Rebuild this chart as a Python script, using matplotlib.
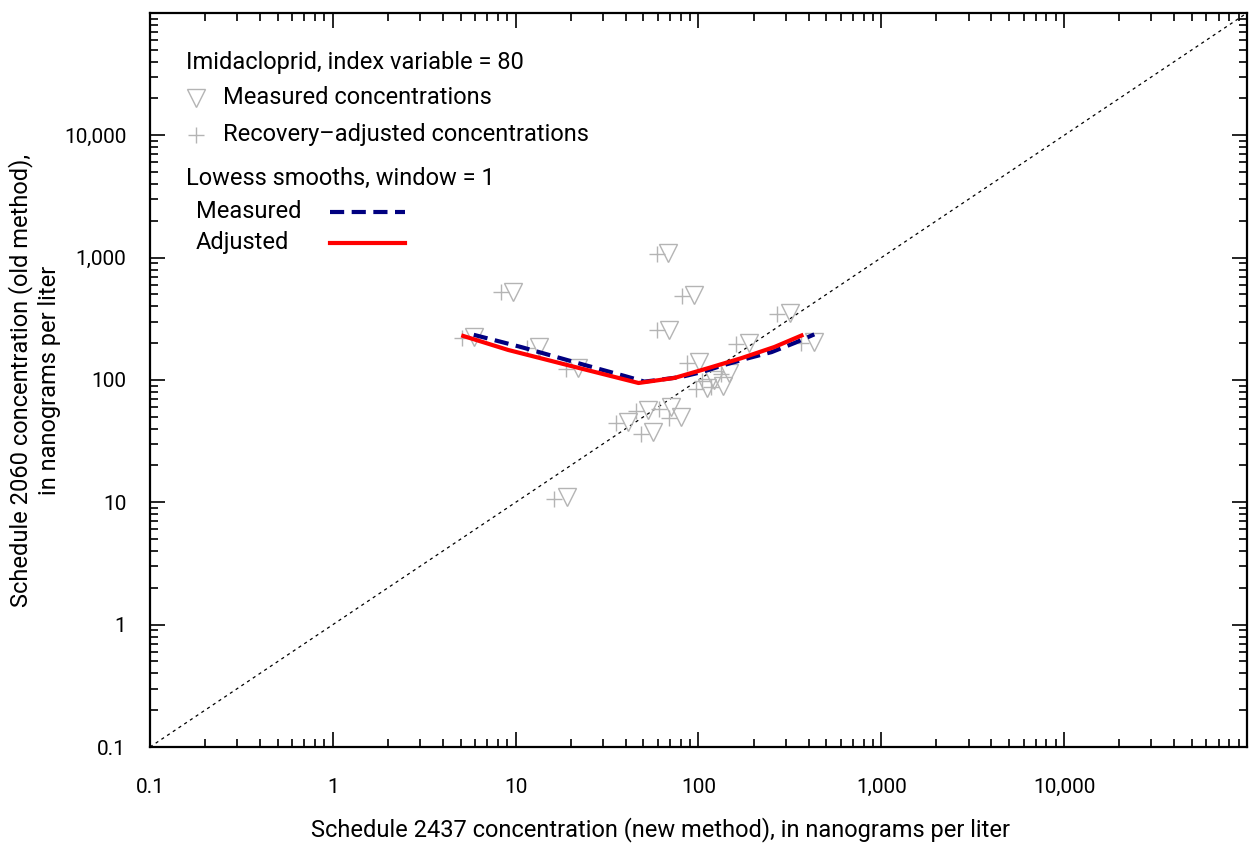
import matplotlib
matplotlib.use("Agg")
import matplotlib.pyplot as plt
from matplotlib import font_manager
from matplotlib.lines import Line2D
from matplotlib.ticker import FixedLocator, LogLocator, NullFormatter

# Font: a narrow sans if available
names = {f.name for f in font_manager.fontManager.ttflist}
family = ["Liberation Sans Narrow"] if "Liberation Sans Narrow" in names else ["Roboto", "DejaVu Sans"]
plt.rcParams["font.family"] = family + ["DejaVu Sans"]

# Measured concentrations (new method x, old method y), ng/L
meas_x = [5.9, 9.7, 13.5, 22, 19.2, 68.5, 95, 69.4, 315, 426, 188, 101, 146,
          121, 137, 112, 41.4, 53.2, 71, 80.7, 56.7]
meas_y = [225, 525, 186, 125, 11.0, 1095, 496, 257, 353, 205, 201, 140, 114,
          100, 89.3, 86, 45.3, 56.8, 60.1, 49.8, 37.5]

# Recovery-adjusted concentrations
adj_x = [5.1, 8.3, 11.5, 18.8, 16.3, 59, 81.5, 59, 268, 363, 160, 86, 132,
         104, 117, 97, 35.5, 45.5, 61, 69, 48.5]
adj_y = [222, 520, 184, 123, 10.6, 1080, 490, 254, 348, 200, 198, 138, 112,
         99, 88, 84, 44.5, 55.5, 58, 48.5, 36]

# Lowess smooths
smooth_meas_x = [5.9, 10.7, 23.7, 39.3, 50.6, 60, 80.7, 104, 139, 188, 251, 336, 430]
smooth_meas_y = [234, 186, 133, 108, 97, 100, 106, 116, 133, 151, 169, 201, 236]
smooth_adj_x = [5.17, 9.1, 21, 47, 74, 113, 172, 260, 366]
smooth_adj_y = [229, 176, 128, 94.5, 104, 125, 151, 186, 231]

# Axis ticks
tick_vals = [0.1, 1, 10, 100, 1000, 10000]
tick_labels = ["0.1", "1", "10", "100", "1,000", "10,000"]
lim = (0.1, 100000)

fig = plt.figure(figsize=(12.54, 8.48), dpi=100)
ax = fig.add_axes([0.1196, 0.1191, 0.8748, 0.8656])
ax.set_xscale("log")
ax.set_yscale("log")
ax.set_xlim(*lim)
ax.set_ylim(*lim)

grey = "#b4b4b4"
# 1:1 line
ax.plot(lim, lim, color="black", lw=0.9, linestyle=(0, (2.5, 3)), zorder=1)

ax.plot(adj_x, adj_y, linestyle="none", marker="+", ms=12, mew=1.0,
        color=grey, zorder=2)
ax.plot(meas_x, meas_y, linestyle="none", marker="v", ms=12.5, mew=1.0,
        mfc="none", mec=grey, zorder=2)

ax.plot(smooth_meas_x, smooth_meas_y, color="#000080", lw=3,
        linestyle=(0, (3.4, 1.8)), zorder=3)
ax.plot(smooth_adj_x, smooth_adj_y, color="red", lw=3, zorder=3)

for axis in (ax.xaxis, ax.yaxis):
    axis.set_major_locator(FixedLocator(tick_vals + [100000]))
    axis.set_minor_locator(LogLocator(base=10, subs=range(2, 10), numticks=20))
    axis.set_minor_formatter(NullFormatter())
ax.set_xticklabels(tick_labels + [""])
ax.set_yticklabels(tick_labels + [""])

ax.tick_params(which="both", direction="in", top=True, right=True, width=1.2,
               labelsize=15, colors="black")
ax.tick_params(which="major", length=11)
ax.tick_params(which="minor", length=6)
ax.tick_params(axis="x", which="major", pad=22)
ax.tick_params(axis="y", which="major", pad=17)
for sp in ax.spines.values():
    sp.set_linewidth(1.6)

ax.set_xlabel("Schedule 2437 concentration (new method), in nanograms per liter",
              fontsize=17, labelpad=15)
ax.xaxis.label.set_x(0.465)
ax.set_ylabel("Schedule 2060 concentration (old method),\nin nanograms per liter",
              fontsize=17, labelpad=2, linespacing=1.3)

# Explanation block
def fx(px):
    return px / 1254.0

def fy(py):
    return 1 - py / 848.0

fs = 17
fig.text(fx(186), fy(62), "Imidacloprid, index variable = 80", fontsize=fs, va="center")
fig.add_artist(Line2D([fx(196)], [fy(98)], marker="v", ms=12.5, mfc="none",
                      mec=grey, mew=1.0, linestyle="none"))
fig.text(fx(223), fy(98), "Measured concentrations", fontsize=fs, va="center")
fig.add_artist(Line2D([fx(196)], [fy(135)], marker="+", ms=12, mew=1.0,
                      color=grey, linestyle="none"))
fig.text(fx(223), fy(135), "Recovery\u2013adjusted concentrations", fontsize=fs, va="center")
fig.text(fx(186), fy(178), "Lowess smooths, window = 1", fontsize=fs, va="center")
fig.text(fx(196), fy(212), "Measured", fontsize=fs, va="center")
fig.add_artist(Line2D([fx(330), fx(405)], [fy(212), fy(212)], color="#000080",
                      lw=3, linestyle=(0, (3.4, 1.8))))
fig.text(fx(196), fy(243), "Adjusted", fontsize=fs, va="center")
fig.add_artist(Line2D([fx(330), fx(405)], [fy(243), fy(243)], color="red", lw=3))

fig.savefig("out.png", dpi=100)
